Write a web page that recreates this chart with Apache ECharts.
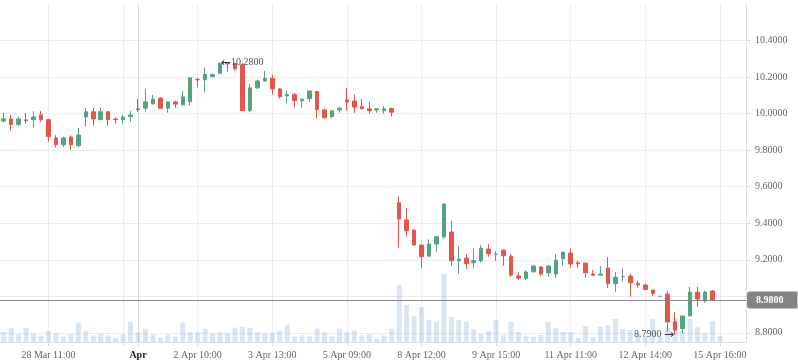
<!DOCTYPE html>
<html><head><meta charset="utf-8">
<script src="https://cdn.jsdelivr.net/npm/echarts@6/dist/echarts.min.js"></script>
<style>html,body{margin:0;padding:0;background:#fff}#c{width:798px;height:363px}</style>
</head><body><div id="c"></div>
<script>
// ---- data ----
const opens = [9.960,9.971,9.940,9.966,9.967,9.993,9.967,9.867,9.830,9.872,
9.824,9.982,10.010,9.967,10.010,9.971,9.967,9.984,10.026,10.030,
10.053,10.085,10.030,10.064,10.049,10.066,10.188,10.185,10.203,10.221,
10.276,10.274,10.267,10.016,10.141,10.179,10.194,10.135,10.097,10.104,
10.071,10.082,10.121,10.020,9.984,10.020,10.075,10.069,10.038,10.026,
10.020,10.016,10.027,9.512,9.418,9.363,9.281,9.220,9.286,9.326,
9.352,9.195,9.209,9.184,9.195,9.259,9.230,9.253,9.220,9.111,
9.098,9.134,9.160,9.129,9.122,9.206,9.237,9.184,9.182,9.122,
9.116,9.155,9.069,9.109,9.111,9.071,9.062,9.034,9.000,9.012,
8.860,8.824,8.893,9.023,8.974,9.029];
const closes = [9.971,9.940,9.971,9.962,9.982,9.967,9.874,9.830,9.867,9.830,
9.883,10.010,9.971,10.010,9.967,9.967,9.980,9.993,10.022,10.064,
10.079,10.030,10.064,10.052,10.092,10.196,10.185,10.214,10.214,10.276,
10.272,10.245,10.016,10.141,10.179,10.194,10.135,10.093,10.104,10.071,
10.080,10.124,10.022,9.977,10.015,10.030,10.064,10.036,10.026,10.016,
10.026,10.026,10.008,9.423,9.359,9.281,9.217,9.286,9.326,9.505,
9.195,9.204,9.180,9.195,9.263,9.233,9.230,9.222,9.116,9.100,
9.133,9.166,9.122,9.166,9.198,9.242,9.177,9.178,9.129,9.115,
9.122,9.069,9.105,9.109,9.074,9.062,9.038,9.016,9.000,8.860,
8.815,8.892,9.023,8.985,9.023,8.980];
const lows = [9.951,9.907,9.934,9.945,9.923,9.956,9.847,9.814,9.816,9.803,
9.814,9.929,9.934,9.965,9.934,9.945,9.945,9.956,10.008,10.011,
10.053,10.027,10.005,10.033,10.044,10.044,10.145,10.117,10.200,10.216,
10.227,10.236,10.016,10.008,10.135,10.174,10.104,10.082,10.057,10.033,
10.033,10.064,9.973,9.973,9.973,10.005,10.016,10.005,10.026,10.000,
10.005,10.000,9.984,9.266,9.326,9.277,9.156,9.217,9.244,9.315,
9.167,9.123,9.148,9.156,9.184,9.217,9.193,9.167,9.107,9.089,
9.089,9.132,9.112,9.107,9.101,9.167,9.156,9.156,9.101,9.115,
9.112,9.047,9.025,9.080,8.997,9.047,9.034,9.001,9.000,8.806,
8.790,8.797,8.888,8.943,8.965,8.974];
const highs = [10.005,9.993,9.982,10.004,10.013,10.015,9.971,9.882,9.874,9.882,
9.922,10.031,10.031,10.031,10.015,9.980,9.993,10.015,10.081,10.134,
10.102,10.088,10.064,10.071,10.124,10.196,10.196,10.252,10.220,10.280,
10.279,10.279,10.276,10.163,10.185,10.234,10.212,10.141,10.126,10.113,
10.080,10.126,10.124,10.027,10.020,10.038,10.141,10.104,10.080,10.064,
10.026,10.042,10.033,9.545,9.483,9.363,9.281,9.312,9.330,9.511,
9.414,9.275,9.231,9.263,9.281,9.286,9.248,9.253,9.231,9.133,
9.144,9.168,9.166,9.166,9.231,9.242,9.264,9.195,9.182,9.144,
9.166,9.215,9.133,9.153,9.122,9.083,9.067,9.038,9.000,9.030,
8.915,8.892,9.052,9.052,9.030,9.034];
// volume, thousands of lots
const volumes = [10,14,7.6,14,8.6,6.3,11.3,8.6,5.6,7.6,
19.3,11.3,6.6,7.6,6.6,4.3,7.6,20.3,9.6,13.3,
7.6,4.3,7.6,5.6,19.3,9.6,9.6,13.3,8.6,9.6,
8.6,14.3,15.3,14.3,9.6,8.6,9.6,11.3,17.3,5.6,
6.6,5.6,13.3,9.6,5.6,13.3,9.6,11.3,6.6,7.6,
3.3,6.6,13.3,57,37,26,35,22,20,68,
25,22,20,13,8,11,22,7,20,10,
6,5,7,20,14,10,10,4,16,5,
15,17,23,13,12,9,6,23,5,14,
24,11,23,15,9,21,6];
const emptySlotsAtRight = 3;
const xTickIndex = [6,16,18,26,36,46,56,66,76,86,96];
const xTickText  = ['28 Mar 11:00','','Apr','2 Apr 10:00','3 Apr 13:00','5 Apr 09:00','8 Apr 12:00','9 Apr 15:00','11 Apr 11:00','12 Apr 14:00','15 Apr 16:00'];
const monthStartIndex = 18;
const yTickLabels = [8.8,9.0,9.2,9.4,9.6,9.8,10.0,10.2,10.4];
const lastPrice = 8.98;
const highMark = {index: 29, value: 10.28};
const lowMark = {index: 90, value: 8.79};
// ----------------------------------------------

const categories = [];
for (let i = 0; i < volumes.length + emptySlotsAtRight; i++) categories.push('k' + i);
const UP = '#56a47f', DOWN = '#e2574c', FLAT = '#8a8a8a';
const FONT = 'Liberation Serif';
const candleData = opens.map((o, i) => {
  const item = {value: [o, closes[i], lows[i], highs[i]]};
  if (o === closes[i]) item.itemStyle = {color: FLAT, color0: FLAT, borderColor: FLAT, borderColor0: FLAT};
  return item;
});
const tickSet = new Set(xTickIndex);
const gridColors = xTickIndex.map(i => i === monthStartIndex ? '#d9d9d9' : '#ececec');

const chart = echarts.init(document.getElementById('c'), null, {renderer: 'canvas'});
chart.setOption({
  animation: false,
  backgroundColor: '#fff',
  grid: {left: 0, right: 52, top: 4, bottom: 21, containLabel: false},
  xAxis: {
    type: 'category', data: categories, boundaryGap: true,
    axisLine: {show: true, lineStyle: {color: '#dcdcdc'}},
    axisTick: {show: true, alignWithLabel: true, interval: (i) => tickSet.has(i), length: 4, lineStyle: {color: '#dcdcdc'}},
    axisLabel: {
      interval: (i) => tickSet.has(i), margin: 8, color: '#666', fontFamily: FONT, fontSize: 10,
      formatter: (v, i) => { const k = xTickIndex.indexOf(i); if (k < 0) return ''; return i === monthStartIndex ? '{b|' + xTickText[k] + '}' : xTickText[k]; },
      rich: {b: {fontWeight: 'bold', color: '#222', fontFamily: FONT, fontSize: 10}}
    },
    splitLine: {show: true, interval: (i) => tickSet.has(i), alignWithLabel: true, lineStyle: {color: gridColors, width: 1}}
  },
  yAxis: [{
    type: 'value', position: 'right', min: 8.75, max: 10.6, splitNumber: 9, scale: true,
    axisLine: {show: true, lineStyle: {color: '#dcdcdc'}},
    axisTick: {show: true, length: 4, lineStyle: {color: '#dcdcdc'}},
    axisLabel: {
      margin: 9, color: '#666', fontFamily: FONT, fontSize: 10, showMinLabel: false, showMaxLabel: false,
      formatter: (v) => yTickLabels.some(t => Math.abs(t - v) < 1e-6) ? v.toFixed(4) : ''
    },
    splitLine: {show: true, showMinLine: false, showMaxLine: false, lineStyle: {color: '#ececec'}}
  }, {
    type: 'value', min: 0, max: 338, show: false, splitLine: {show: false}
  }],
  series: [{
    type: 'candlestick', data: candleData, barWidth: 4,
    itemStyle: {color: UP, color0: DOWN, borderColor: UP, borderColor0: DOWN, borderWidth: 1},
    markPoint: {
      symbol: 'circle', symbolSize: 0, animation: false,
      label: {color: '#555', fontFamily: FONT, fontSize: 10,
        rich: {a: {fontFamily: 'DejaVu Sans', fontSize: 12, color: '#333'}, t: {fontFamily: FONT, fontSize: 10, color: '#555'}}},
      data: [
        {coord: [highMark.index, highMark.value], label: {position: 'right', distance: 1, formatter: '{a|\u2190}{t|' + highMark.value.toFixed(4) + '}'}},
        {coord: [lowMark.index, lowMark.value], label: {position: 'left', distance: 1, formatter: '{t|' + lowMark.value.toFixed(4) + ' }{a|\u2192}'}}
      ]
    },
    markLine: {
      symbol: ['none', 'none'], silent: true, animation: false,
      lineStyle: {color: '#888', width: 1, type: 'solid'},
      label: {show: true, position: 'end', distance: 1, formatter: lastPrice.toFixed(4), color: '#fff', backgroundColor: '#848484',
        fontFamily: FONT, fontSize: 10, fontWeight: 'bold', padding: [4, 14, 3, 9], borderRadius: [3, 0, 0, 3]},
      data: [{yAxis: lastPrice}]
    }
  }, {
    type: 'bar', yAxisIndex: 1, data: volumes, barWidth: 5,
    itemStyle: {color: 'rgba(120,160,210,0.28)'}
  }]
});
</script></body></html>
